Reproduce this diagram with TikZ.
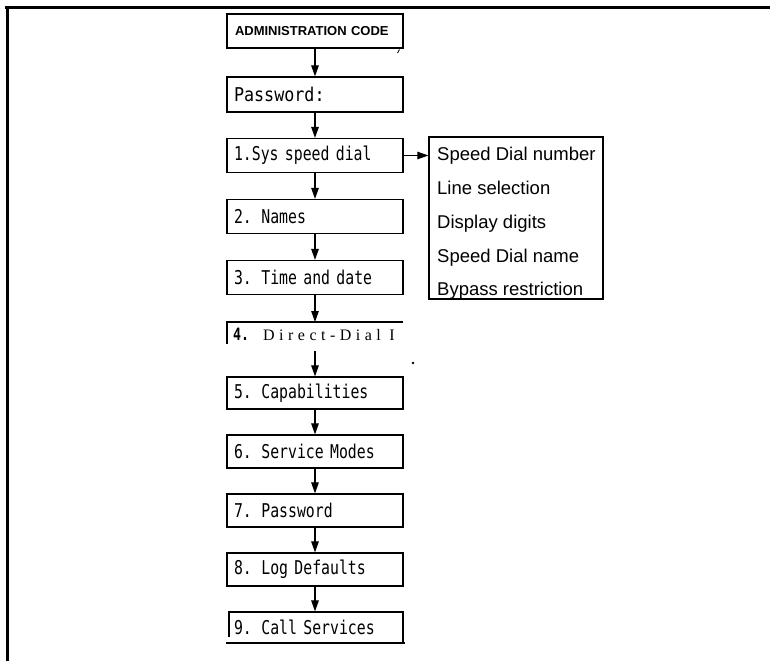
\documentclass[tikz,border=0pt]{standalone}
\usepackage{fontspec}
\setmainfont{Liberation Serif}
\newfontfamily\lcdfont[FakeStretch=0.78]{DejaVu Sans Mono}
\newfontfamily\lcdwide[FakeStretch=0.88]{DejaVu Sans Mono}
\newfontfamily\helv{Liberation Sans}
\newfontfamily\ddfont[LetterSpace=28]{Liberation Serif}
\usetikzlibrary{arrows.meta}
\begin{document}
\begin{tikzpicture}[x=1pt,y=-1pt,
  box/.style={draw, line width=1.2pt, minimum height=34pt, text width=162pt,
    inner xsep=7pt, inner ysep=0pt, align=left,
    font=\lcdfont\fontsize{19}{19}\selectfont},
  arr/.style={line width=1.1pt, -{Triangle[length=11pt,width=7.5pt]}},
  item/.style={anchor=base west, inner sep=0pt, font=\helv\fontsize{18.5}{18.5}\selectfont},
  frame/.style={line width=3pt},
  partline/.style={line width=1.2pt},
  thickline/.style={line width=2pt}]
\useasboundingbox (0,0) rectangle (770,661);
% frame
\draw[frame] (5,8) -- (770,8);
\draw[frame] (7,8) -- (7,661);
% main column
\node[box, font=\helv\bfseries\fontsize{13}{13}\selectfont, inner xsep=8pt, text width=160pt] (admin) at (315,31) {ADMINISTRATION CODE};
\node[box, font=\lcdwide\fontsize{19}{19}\selectfont, minimum height=35pt] (pw) at (315,94.5) {Password:};
\node[box] (sys) at (315,155.5) {1.Sys speed dial};
\node[box] (names) at (315,216.5) {2. Names};
\node[box] (time) at (315,277.5) {3. Time and date};
% partial box 4
\coordinate (d4in) at (315,322);
\coordinate (d4out) at (315,351);
\draw[thickline] (226,322) -- (403,322);
\draw[partline] (227,322) -- (227,344);
\node[anchor=base west, inner sep=0pt, font=\lcdfont\bfseries\fontsize{17}{17}\selectfont] (d4num) at (233,340) {4.};
\node[anchor=base west, inner sep=0pt, font=\ddfont\fontsize{16}{16}\selectfont] (d4txt) at (263,340) {Direct-Dial I};
\node[box, minimum height=32pt] (cap) at (315,393) {5. Capabilities};
\node[box, minimum height=33pt] (serv) at (315,451.5) {6. Service Modes};
\node[box, minimum height=33pt] (pwd) at (315,510.5) {7. Password};
\node[box, minimum height=33pt] (log) at (315,569.5) {8. Log Defaults};
% partial box 9
\node[box, draw=none, minimum height=31pt] (call) at (315,627.5) {9. Call Services};
\draw[partline] (228,612) -- (403,612) -- (403,643);
\draw[thickline] (226,643) -- (405,643);
\draw[partline] (229,612) -- (229,637);
% arrows
\draw[arr] (admin) -- (pw);
\draw[arr] (pw) -- (sys);
\draw[arr] (sys) -- (names);
\draw[arr] (names) -- (time);
\draw[arr] (time) -- (d4in);
\draw[arr] (d4out) -- (cap);
\draw[arr] (cap) -- (serv);
\draw[arr] (serv) -- (pwd);
\draw[arr] (pwd) -- (log);
\draw[arr] (log) -- (call.north);
% list box
\node[draw, line width=1.2pt, minimum width=174pt, minimum height=162pt, inner sep=0pt] (list) at (516,218) {};
\node[item] (l1) at (437,160) {Speed Dial number};
\node[item] (l2) at (437,194) {Line selection};
\node[item] (l3) at (437,228) {Display digits};
\node[item] (l4) at (437,262) {Speed Dial name};
\node[item] (l5) at (437,295.5) {Bypass restriction};
\draw[arr] (sys.east) -- (sys.east -| list.west);
% scan marks
\draw[line width=0.8pt] (397.5,53) -- (399.5,49.5);
\fill (413,363) circle (1.3pt);
\end{tikzpicture}
\end{document}
